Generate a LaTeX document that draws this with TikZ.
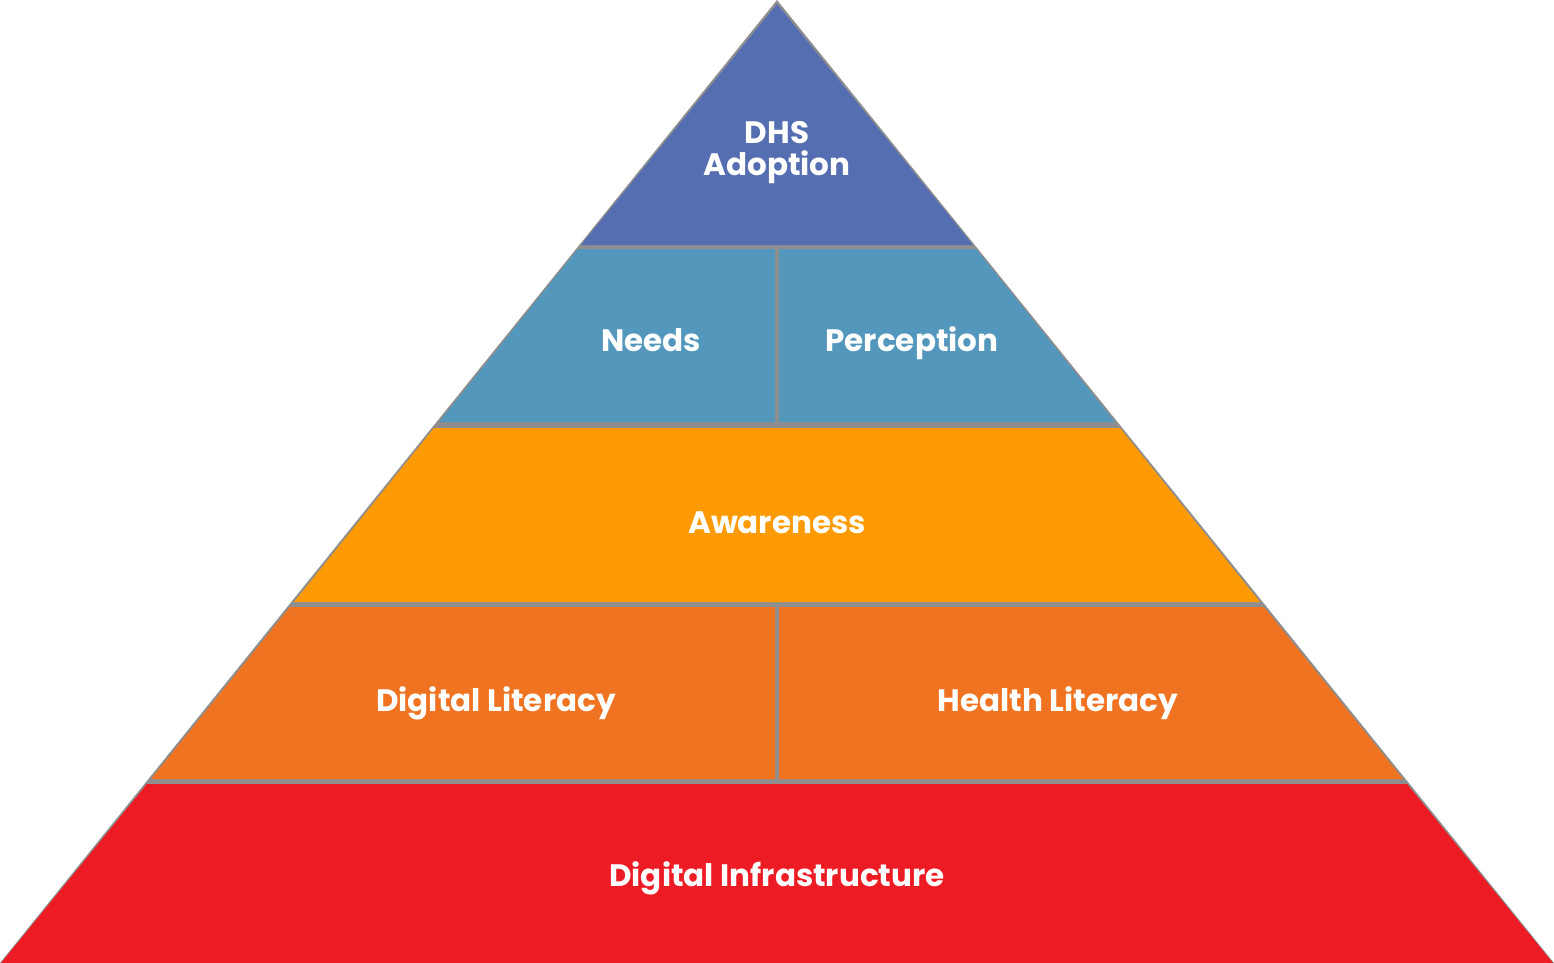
\documentclass[tikz,border=0pt]{standalone}
\usepackage{fontspec}
\setmainfont{Poppins}
\begin{document}
\definecolor{tierA}{HTML}{556EB2}
\definecolor{tierB}{HTML}{5397BD}
\definecolor{tierC}{HTML}{FD9A04}
\definecolor{tierD}{HTML}{F07322}
\definecolor{tierE}{HTML}{ED1C24}
\definecolor{rim}{HTML}{8E8E8E}
\begin{tikzpicture}[x=0.5pt,y=-0.5pt,
  label/.style={text=white,font=\fontsize{15.5}{16}\selectfont\bfseries,align=center,inner sep=0pt},
  oneline/.style={label,text height=0.72em,text depth=0.02em}]
\useasboundingbox (0,0) rectangle (1554,963);
% grey body of the pyramid showing through as rims and separators
\fill[rim] (0,963) -- (777,0) -- (1554,963) -- cycle;
% tiers, top to bottom
\fill[tierA] (777,4) -- (973,245) -- (581,245) -- cycle;
\fill[tierB] (578,249) -- (775,249) -- (775,422) -- (439,422) -- cycle;
\fill[tierB] (779,249) -- (976,249) -- (1115,422) -- (779,422) -- cycle;
\fill[tierC] (434,428) -- (1120,428) -- (1260,602) -- (294,602) -- cycle;
\fill[tierD] (290,607) -- (775,607) -- (775,779) -- (151,779) -- cycle;
\fill[tierD] (779,607) -- (1264,607) -- (1403,779) -- (779,779) -- cycle;
\fill[tierE] (147,784) -- (1407,784) -- (1553,963) -- (1,963) -- cycle;
% labels
\node[label] (adopt) at (777,153) {DHS\\Adoption};
\node[oneline] (needs) at (651,344) {Needs};
\node[oneline] (perc) at (912,344) {Perception};
\node[oneline] (aware) at (777,526) {Awareness};
\node[oneline] (dlit) at (496,704) {Digital Literacy};
\node[oneline] (hlit) at (1058,704) {Health Literacy};
\node[oneline] (infra) at (777,879) {Digital Infrastructure};
\end{tikzpicture}
\end{document}
